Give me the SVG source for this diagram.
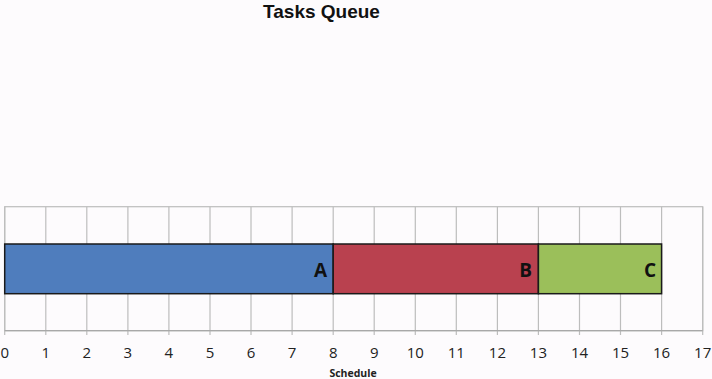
<svg xmlns="http://www.w3.org/2000/svg" width="712" height="379" viewBox="0 0 712 379">
<style>
.grid{stroke:#bdbdbd;stroke-width:1.2;fill:none}
.axis{stroke:#a8a8a8;stroke-width:1.2}
.bar{stroke:#1a1a1a;stroke-width:1.5}
.tick{font-family:"Open Sans","Liberation Sans",sans-serif;font-size:15px;fill:#222;text-anchor:middle}
.lbl{font-family:"Open Sans","Liberation Sans",sans-serif;font-weight:bold;font-size:19px;fill:#111;text-anchor:end}
</style>
<rect width="712" height="379" fill="#fdfbfd"/>
<text x="321.5" y="18" font-family="Liberation Sans, Arial, sans-serif" font-weight="bold" font-size="19" text-anchor="middle" fill="#111">Tasks Queue</text>
<g id="grid">
<rect class="grid" x="4.7" y="206.7" width="698" height="124"/>
<path class="grid" d="M45.8 206.7V335M86.8 206.7V335M127.9 206.7V335M168.9 206.7V335M210 206.7V335M251 206.7V335M292.1 206.7V335M333.2 206.7V335M374.2 206.7V335M415.3 206.7V335M456.3 206.7V335M497.4 206.7V335M538.4 206.7V335M579.5 206.7V335M620.5 206.7V335M661.6 206.7V335M702.7 206.7V335M4.7 206.7V335"/>
<line class="axis" x1="4.7" y1="330.7" x2="702.7" y2="330.7"/>
</g>
<g id="ticks">
<text class="tick" x="4.7" y="358">0</text>
<text class="tick" x="45.8" y="358">1</text>
<text class="tick" x="86.8" y="358">2</text>
<text class="tick" x="127.9" y="358">3</text>
<text class="tick" x="168.9" y="358">4</text>
<text class="tick" x="210" y="358">5</text>
<text class="tick" x="251" y="358">6</text>
<text class="tick" x="292.1" y="358">7</text>
<text class="tick" x="333.2" y="358">8</text>
<text class="tick" x="374.2" y="358">9</text>
<text class="tick" x="415.3" y="358">10</text>
<text class="tick" x="456.3" y="358">11</text>
<text class="tick" x="497.4" y="358">12</text>
<text class="tick" x="538.4" y="358">13</text>
<text class="tick" x="579.5" y="358">14</text>
<text class="tick" x="620.5" y="358">15</text>
<text class="tick" x="661.6" y="358">16</text>
<text class="tick" x="702.7" y="358">17</text>
</g>
<text x="353" y="377" font-family="Open Sans, Liberation Sans, sans-serif" font-weight="bold" font-size="10.5" text-anchor="middle" fill="#222">Schedule</text>
<g id="taskA">
<rect class="bar" x="4.7" y="244" width="328.5" height="49.7" fill="#4f7dbd"/>
<text class="lbl" x="327" y="277">A</text>
</g>
<g id="taskB">
<rect class="bar" x="333.2" y="244" width="205.2" height="49.7" fill="#b9414f"/>
<text class="lbl" x="532" y="277">B</text>
</g>
<g id="taskC">
<rect class="bar" x="538.4" y="244" width="123.2" height="49.7" fill="#9bbf5a"/>
<text class="lbl" x="656" y="277">C</text>
</g>
</svg>
